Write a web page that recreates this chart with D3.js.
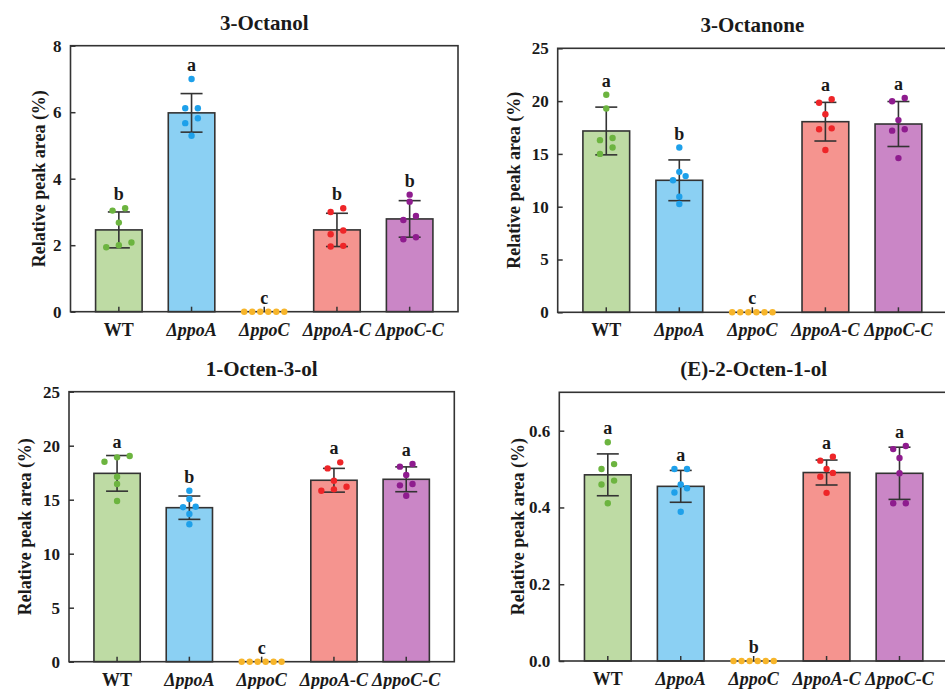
<!DOCTYPE html>
<html>
<head>
<meta charset="utf-8">
<script src="https://d3js.org/d3.v7.min.js"></script>
</head>
<body style="margin:0; font-family:'Liberation Serif';">
<div id="chart"></div>
<script>
// strains and shared colours
const groups = ["WT", "ΔppoA", "ΔppoC", "ΔppoA-C", "ΔppoC-C"];
const barFill = ["#bedba4", "#8bd0f3", "#f7d37a", "#f5948f", "#ca86c6"];
const dotFill = ["#6cb43f", "#1ea0ea", "#f7b52a", "#ee2528", "#8e1c8e"];

// 3-Octanol
const octanolMean = [2.46, 5.98, 0, 2.46, 2.79];
const octanolSd = [0.54, 0.58, 0, 0.5, 0.55];
const octanolPts = [
  [3.04, 3.11, 2.68, 2.08, 1.94, 2.0],
  [7.0, 6.12, 6.12, 5.82, 5.67, 5.29],
  [0, 0, 0, 0, 0, 0],
  [3.0, 3.11, 2.33, 2.44, 1.96, 1.98],
  [3.52, 3.31, 2.76, 2.88, 2.18, 2.24]
];
const octanolLetters = ["b", "a", "c", "b", "b"];
const octanolTicks = [0, 2, 4, 6, 8];

// 3-Octanone
const octanoneMean = [17.17, 12.5, 0, 18.05, 17.83];
const octanoneSd = [2.26, 1.93, 0, 1.83, 2.13];
const octanonePts = [
  [20.6, 19.3, 16.3, 16.5, 15.6, 15.0],
  [15.6, 13.3, 12.9, 12.5, 10.95, 10.26],
  [0, 0, 0, 0, 0, 0],
  [19.85, 20.17, 18.75, 17.42, 17.33, 15.37],
  [19.98, 20.3, 18.2, 17.33, 17.2, 14.6]
];
const octanoneLetters = ["a", "b", "c", "a", "a"];
const octanoneTicks = [0, 5, 10, 15, 20, 25];

// 1-Octen-3-ol
const octenolMean = [17.44, 14.26, 0, 16.8, 16.89];
const octenolSd = [1.65, 1.08, 0, 1.1, 1.15];
const octenolPts = [
  [18.92, 19.05, 18.52, 17.13, 16.45, 14.88],
  [15.83, 15.06, 14.3, 14.35, 13.68, 12.72],
  [0, 0, 0, 0, 0, 0],
  [18.46, 17.9, 16.2, 16.76, 15.83, 15.96],
  [18.06, 18.3, 17.29, 16.45, 16.33, 15.37]
];
const octenolLetters = ["a", "b", "c", "a", "a"];
const octenolTicks = [0, 5, 10, 15, 20, 25];

// (E)-2-Octen-1-ol
const eOctenolMean = [0.485, 0.455, 0, 0.491, 0.489];
const eOctenolSd = [0.0545, 0.0415, 0, 0.0325, 0.068];
const eOctenolPts = [
  [0.570, 0.513, 0.5, 0.47, 0.46, 0.411],
  [0.5, 0.5, 0.45, 0.46, 0.439, 0.389],
  [0, 0, 0, 0, 0, 0],
  [0.532, 0.522, 0.49, 0.5, 0.48, 0.438],
  [0.552, 0.560, 0.529, 0.489, 0.411, 0.411]
];
const eOctenolLetters = ["a", "a", "b", "a", "a"];
const eOctenolTicks = [0, 0.2, 0.4, 0.6];

const W = 945, H = 689;
const INK = "#1a1a1a";

const svg = d3.select("#chart").append("svg")
  .attr("width", W).attr("height", H);

// serif bold text, set on the element itself
function serif(sel, size) {
  return sel.style("font-family", '"Liberation Serif"').style("font-weight", "bold")
    .style("font-size", size + "px").attr("fill", INK);
}

// row-wise scatter layout (points with similar y share a row, centred)
function swarm(vals, y, cx, bw, r) {
  const sorted = vals.map(v => ({ v: v, py: y(v) })).sort((a, b) => a.v - b.v);
  const rows = [];
  sorted.forEach(p => {
    const last = rows[rows.length - 1];
    if (last && Math.abs(last[0].py - p.py) < 6.5) last.push(p);
    else rows.push([p]);
  });
  const out = [];
  rows.forEach(row => {
    const n = row.length;
    const sp = n > 1 ? Math.min(12.6, (bw - 2 * r) / (n - 1)) : 0;
    row.forEach((p, i) => out.push({ x: cx + (i - (n - 1) / 2) * sp, y: p.py }));
  });
  return out;
}

function panel(cfg) {
  const { left, right, top, bottom, max, ticks, fmt, title, mean, sd, pts, letters, ylabOff } = cfg;
  const g = svg.append("g");

  const x = d3.scaleBand().domain(groups).range([left, right])
    .paddingInner(0.36).paddingOuter(0.345);
  const y = d3.scaleLinear().domain([0, max]).range([bottom, top]);
  const bw = x.bandwidth();

  // bars
  g.selectAll(".bar").data(groups).join("rect")
    .attr("x", d => x(d))
    .attr("y", (d, i) => y(mean[i]))
    .attr("width", bw)
    .attr("height", (d, i) => y(0) - y(mean[i]))
    .attr("fill", (d, i) => barFill[i])
    .attr("stroke", "#333")
    .attr("stroke-width", (d, i) => mean[i] > 0 ? 1.6 : 0);

  // error bars
  groups.forEach((d, i) => {
    if (sd[i] <= 0) return;
    const cx = x(d) + bw / 2;
    const eg = g.append("g").attr("stroke", "#333").attr("stroke-width", 1.6);
    eg.append("line").attr("x1", cx).attr("x2", cx)
      .attr("y1", y(mean[i] + sd[i])).attr("y2", y(mean[i] - sd[i]));
    [mean[i] + sd[i], mean[i] - sd[i]].forEach(v => {
      eg.append("line").attr("x1", cx - 11).attr("x2", cx + 11)
        .attr("y1", y(v)).attr("y2", y(v));
    });
  });

  // axes (ticks inward)
  const yAxis = g.append("g")
    .attr("transform", `translate(${left},0)`)
    .call(d3.axisLeft(y).tickValues(ticks).tickFormat(fmt)
      .tickSizeInner(-5).tickSizeOuter(0).tickPadding(9));
  yAxis.select(".domain").remove();
  yAxis.selectAll("line").attr("stroke", "#333").attr("stroke-width", 1.5);
  serif(yAxis.selectAll("text"), 17);

  const xAxis = g.append("g")
    .attr("transform", `translate(0,${bottom})`)
    .call(d3.axisBottom(x).tickSizeInner(-5).tickSizeOuter(0).tickFormat(""));
  xAxis.select(".domain").remove();
  xAxis.selectAll("line").attr("stroke", "#333").attr("stroke-width", 1.5);

  // frame
  g.append("rect")
    .attr("x", left).attr("y", top)
    .attr("width", right - left).attr("height", bottom - top)
    .attr("fill", "none").attr("stroke", "#333").attr("stroke-width", 1.6);

  // individual points
  groups.forEach((d, i) => {
    const cx = x(d) + bw / 2;
    g.append("g").selectAll("circle")
      .data(swarm(pts[i], y, cx, bw, 3.2)).join("circle")
      .attr("cx", p => p.x).attr("cy", p => p.y).attr("r", 3.2)
      .attr("fill", dotFill[i]);
  });

  // significance letters
  serif(g.selectAll(".letter").data(groups).join("text"), 18)
    .attr("text-anchor", "middle")
    .attr("x", d => x(d) + bw / 2)
    .attr("y", (d, i) => y(Math.max(d3.max(pts[i]), mean[i] + sd[i])) - 8)
    .text((d, i) => letters[i]);

  // x labels
  serif(g.selectAll(".xlab").data(groups).join("text"), 18)
    .attr("text-anchor", "middle")
    .attr("x", d => x(d) + bw / 2)
    .attr("y", bottom + 24)
    .style("font-style", d => d === "WT" ? "normal" : "italic")
    .text(d => d);

  // title
  serif(g.append("text"), 21)
    .attr("text-anchor", "middle")
    .attr("x", (left + right) / 2).attr("y", top - 16)
    .text(title);

  // y label
  serif(g.append("text"), 18)
    .attr("text-anchor", "middle")
    .attr("transform", `translate(${left - ylabOff},${(top + bottom) / 2}) rotate(-90)`)
    .text("Relative peak area (%)");
}

panel({ left: 70.5, right: 458, top: 45.7, bottom: 311.7, max: 8, ticks: octanolTicks,
  fmt: d3.format("d"), title: "3-Octanol", mean: octanolMean, sd: octanolSd,
  pts: octanolPts, letters: octanolLetters, ylabOff: 26 });
panel({ left: 557.7, right: 947, top: 48.3, bottom: 312.3, max: 25, ticks: octanoneTicks,
  fmt: d3.format("d"), title: "3-Octanone", mean: octanoneMean, sd: octanoneSd,
  pts: octanonePts, letters: octanoneLetters, ylabOff: 38 });
panel({ left: 69, right: 454.3, top: 391.7, bottom: 661.7, max: 25, ticks: octenolTicks,
  fmt: d3.format("d"), title: "1-Octen-3-ol", mean: octenolMean, sd: octenolSd,
  pts: octenolPts, letters: octenolLetters, ylabOff: 38 });
panel({ left: 559.3, right: 948, top: 392.3, bottom: 661, max: 0.7, ticks: eOctenolTicks,
  fmt: d3.format(".1f"), title: "(E)-2-Octen-1-ol", mean: eOctenolMean, sd: eOctenolSd,
  pts: eOctenolPts, letters: eOctenolLetters, ylabOff: 35 });
</script>
</body>
</html>
